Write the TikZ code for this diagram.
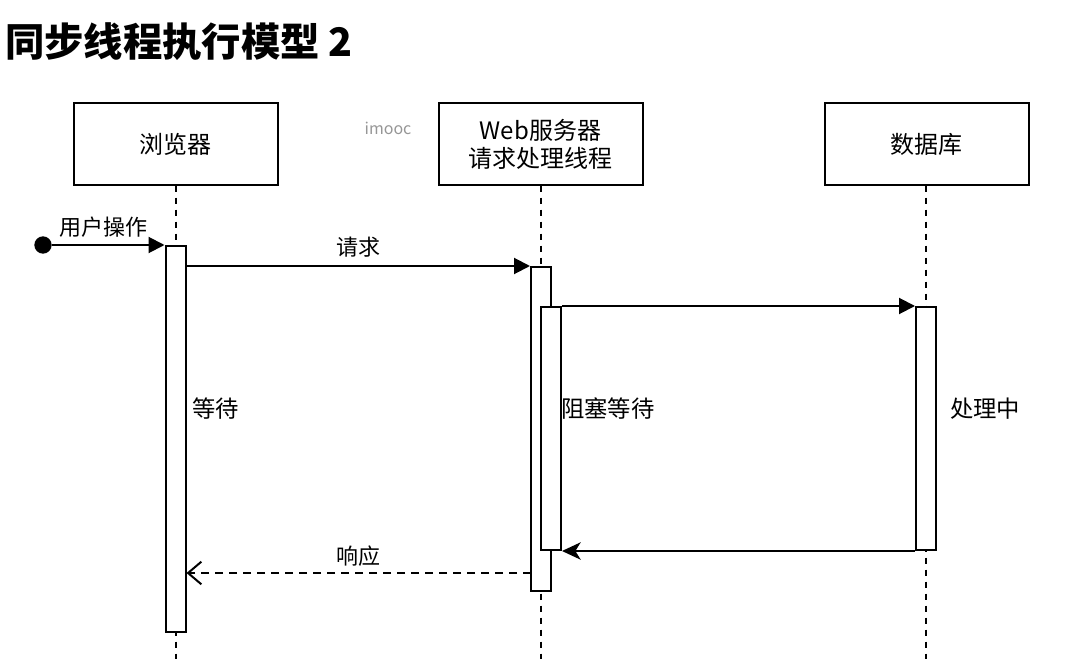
\documentclass[tikz,border=0pt]{standalone}
\usepackage{fontspec}
\setmainfont{Noto Sans CJK SC}
\usetikzlibrary{arrows.meta}
\definecolor{wm}{RGB}{150,150,150}
\tikzset{
  lbox/.style={draw, line width=1.5pt, minimum width=153pt, minimum height=61pt, inner sep=0pt, align=center, font=\fontsize{18}{21}\selectfont},
  act/.style={draw, line width=1.5pt, fill=white, minimum width=15pt, inner sep=0pt, anchor=north},
  life/.style={line width=1.5pt, dash pattern=on 4.5pt off 4.5pt},
  msg/.style={line width=1.5pt, -{Triangle[length=12pt,width=12pt]}},
  retmsg/.style={line width=1.5pt, -{Stealth[length=14pt,width=13pt,inset=4pt]}},
  replymsg/.style={line width=1.5pt, dash pattern=on 6pt off 4.5pt, -{Straight Barb[length=10pt,width=17pt,line width=1.5pt]}},
  lbl/.style={font=\fontsize{16.5}{20}\selectfont, inner sep=0pt},
  side/.style={font=\fontsize{17.5}{20}\selectfont, inner sep=0pt, anchor=west},
}
\begin{document}
\begin{tikzpicture}[x=0.75pt,y=-0.75pt]
\useasboundingbox (0,0) rectangle (1070,659);
% title
\node[anchor=west, inner sep=0pt, font=\fontsize{29.5}{34}\selectfont\bfseries] (title) at (5,42) {同步线程执行模型 2};
\node[text=wm, inner sep=0pt, font=\fontsize{12}{14}\selectfont] (wmark) at (388,128) {imooc};
% lifeline heads
\node[lbox] (b1) at (175.5,144) {浏览器};
\node[lbox] (b2) at (540.5,144) {Web服务器\\请求处理线程};
\node[lbox] (b3) at (926.5,144) {数据库};
\coordinate (e1) at (175.5,659);
\coordinate (e2) at (541,659);
\coordinate (e3) at (926,659);
\draw[life] (b1.south) -- (e1);
\draw[life] (b2.south -| e2) -- (e2);
\draw[life] (b3.south -| e3) -- (e3);
% activations
\node[act, minimum height=289.5pt] (a1) at (175.5,245) {};
\node[act, minimum height=243pt] (a2) at (541,266) {};
\node[act, minimum height=182.25pt] (a2b) at (551,306) {};
\node[act, minimum height=182.25pt] (a3) at (926,306) {};
% messages
\node[circle, fill=black, minimum size=13pt, inner sep=0pt] (start) at (43,245) {};
\draw[msg] (start) -- (a1.north west);
\node[lbl] (l1) at (103,227) {用户操作};
\draw[msg] (a1.east |- a2.north west) -- (a2.north west);
\node[lbl] (l2) at (358,247) {请求};
\draw[msg] (a2b.north east) -- (a3.north west);
\draw[retmsg] (a3.south west) -- (a2b.south east);
\coordinate (r) at (531,573);
\draw[replymsg] (r) -- (a1.east |- r);
\node[lbl] (l3) at (358,556) {响应};
% side labels
\node[side] (w1) at (192,409) {等待};
\node[side] (w2) at (561,409) {阻塞等待};
\node[side] (w3) at (950,409) {处理中};
\end{tikzpicture}
\end{document}
